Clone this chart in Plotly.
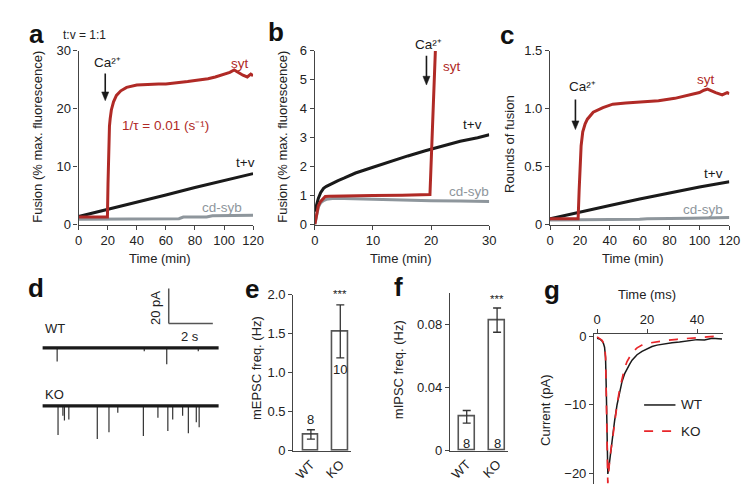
import plotly.graph_objects as go

W, H = 750, 501
FONT = "Liberation Sans, Arial, sans-serif"
RED = "#b02a26"
BLACK = "#1a1a1a"
GRAY = "#8e969c"
AX = "#444444"
TXT = "#222222"

# ---------------- data ----------------
# panel a (t:v = 1:1), time in min, fusion %
a_syt_t = [0, 5, 10, 15, 19.8, 20.2, 20.5, 20.8, 21.2, 21.7, 22.5, 24, 26, 29, 33, 40, 45, 50, 55, 60, 65, 70, 75, 80, 85, 89, 94, 100, 104, 107, 110, 113, 116, 118.4, 120]
a_syt = [1.3, 1.3, 1.3, 1.3, 1.3, 7, 12, 15, 17, 18.3, 19.8, 21.2, 22.3, 23.1, 23.7, 24.1, 24.2, 24.2, 24.3, 24.3, 24.4, 24.5, 24.7, 24.9, 25.0, 25.2, 25.5, 25.9, 26.3, 26.7, 26.2, 25.8, 25.5, 26.0, 25.7]
a_tv_t = [0, 20, 40, 60, 80, 100, 120]
a_tv = [1.4, 2.6, 3.8, 5.1, 6.4, 7.6, 8.8]
a_cd_t = [0, 20, 40, 60, 69, 72, 88, 92, 110, 120]
a_cd = [0.9, 0.9, 0.9, 0.95, 1.0, 1.3, 1.3, 1.5, 1.6, 1.6]

# panel b, time in min (0-30)
b_syt_t = [0, 0.3, 0.6, 1, 1.5, 1.8, 2.5, 3, 5, 8, 10, 15, 19.8, 20.75]
b_syt = [0, 0.4, 0.65, 0.8, 0.9, 0.97, 0.98, 0.98, 0.99, 1.0, 1.0, 1.01, 1.04, 6.1]
b_tv_t = [0, 0.3, 0.6, 1, 1.5, 2, 3, 4, 5, 7, 10, 13, 16, 19, 22, 25, 28, 30]
b_tv = [0.45, 0.7, 0.9, 1.1, 1.25, 1.32, 1.43, 1.52, 1.6, 1.78, 1.98, 2.18, 2.37, 2.55, 2.72, 2.88, 3.0, 3.1]
b_cd_t = [0, 0.3, 0.6, 1, 1.5, 2, 3, 5, 8, 12, 16, 20, 25, 30]
b_cd = [0, 0.35, 0.6, 0.75, 0.83, 0.87, 0.9, 0.9, 0.88, 0.86, 0.84, 0.82, 0.81, 0.8]

# panel c, rounds of fusion
c_syt_t = [0, 10, 18.8, 19.5, 20, 20.8, 21.9, 23.5, 25, 28.9, 35.4, 42, 50.7, 61.6, 72.6, 83.5, 94.4, 100, 103, 105.4, 110.8, 115.2, 118.5, 120]
c_syt = [0.05, 0.05, 0.05, 0.3, 0.5, 0.68, 0.8, 0.87, 0.91, 0.97, 1.01, 1.04, 1.05, 1.06, 1.07, 1.09, 1.12, 1.14, 1.16, 1.17, 1.14, 1.12, 1.14, 1.13]
c_tv_t = [0, 20, 40, 60, 80, 100, 120]
c_tv = [0.05, 0.11, 0.165, 0.22, 0.275, 0.325, 0.37]
c_cd_t = [0, 30, 60, 65, 90, 95, 120]
c_cd = [0.04, 0.04, 0.045, 0.05, 0.05, 0.055, 0.06]

# panel d, spontaneous events (time s, amplitude pA)
d_wt_times = [0.67, 4.62, 5.64, 7.07]
d_wt_amps = [7.8, 2.0, 9.4, 2.0]
d_ko_times = [0.71, 0.93, 1.0, 1.2, 2.49, 3.02, 3.42, 4.58, 5.24, 5.69, 5.91, 6.36, 6.62, 6.98, 7.11]
d_ko_amps = [16.7, 5.6, 8.3, 7.8, 18.9, 15.0, 3.9, 17.2, 6.7, 14.4, 7.8, 5.6, 15.6, 9.4, 12.2]
d_duration = 8.0

# panel e, mEPSC frequency (Hz)
groups = ["WT", "KO"]
e_vals = [0.21, 1.53]
e_err = [0.06, 0.34]
e_n = ["8", "10"]

# panel f, mIPSC frequency (Hz)
f_vals = [0.0215, 0.083]
f_err = [0.004, 0.0077]
f_n = ["8", "8"]

# panel g, averaged events
g_wt_t = [0, 1, 2, 2.5, 3, 3.4, 3.7, 4.0, 4.3, 4.7, 5.2, 6, 7, 8, 9, 10, 11, 12, 13, 14, 15, 16, 18, 20, 22, 24, 26, 28, 30, 33, 36, 40, 43, 46, 50]
g_wt = [-0.3, -0.4, -0.7, -1.0, -1.6, -3.2, -8, -15, -20.1, -19.2, -17.5, -15.3, -12.4, -10, -8.1, -6.6, -5.5, -4.7, -4.1, -3.5, -3.1, -2.7, -2.2, -1.8, -1.5, -1.3, -1.15, -1.05, -0.95, -0.85, -0.7, -0.5, -0.55, -0.3, -0.4]
g_ko_t = [0, 1, 2, 3, 3.4, 3.7, 4.0, 4.3, 4.6, 5.2, 6, 7, 8, 9, 10, 11, 12, 13, 14, 16, 18, 20, 24, 28, 32, 36, 40, 44, 48, 50]
g_ko = [-0.1, -0.3, -0.6, -1.3, -3, -9, -17, -21.5, -20, -17.5, -15.5, -12.6, -10, -7.8, -6, -4.7, -3.7, -3.0, -2.4, -1.7, -1.3, -1.05, -0.8, -0.6, -0.45, -0.3, -0.2, -0.1, 0.0, -0.05]

# ---------------- helpers ----------------
def px(x):
    return x / W

def py(y):
    return 1 - y / H

def dom_x(a, b):
    return [px(a), px(b)]

def dom_y(top, bottom):
    return [py(bottom), py(top)]

annotations = []
shapes = []

def text(s, x, y, size=12.5, color=TXT, angle=0, xanchor="center", bold=False):
    annotations.append(dict(
        text=s, x=px(x), y=py(y), xref="paper", yref="paper",
        showarrow=False, xanchor=xanchor, yanchor="middle", textangle=angle,
        font=dict(family=FONT, size=size, color=color, weight="bold" if bold else "normal")))

def arrow(ax_id, x, ytip, ytail, ux, uy):
    """Downward arrow drawn as shapes; ux, uy = data units per pixel."""
    hl, hw = 9 * uy, 3.6 * ux
    xr, yr = "x" + ax_id, "y" + ax_id
    shapes.append(dict(type="line", xref=xr, yref=yr, x0=x, x1=x, y0=ytail, y1=ytip + hl * 0.8,
                       line=dict(color=BLACK, width=1.6)))
    shapes.append(dict(type="path", xref=xr, yref=yr,
                       path="M %f,%f L %f,%f L %f,%f Z" % (x - hw, ytip + hl, x + hw, ytip + hl, x, ytip),
                       fillcolor=BLACK, line=dict(color=BLACK, width=0.5)))

fig = go.Figure()

def line(xs, ys, ax_id, color, width=3.0, dash="solid"):
    fig.add_trace(go.Scatter(x=xs, y=ys, mode="lines", xaxis="x" + ax_id, yaxis="y" + ax_id,
                             line=dict(color=color, width=width, dash=dash), showlegend=False,
                             hoverinfo="skip"))

# panels a, b, c
line(a_cd_t, a_cd, "", GRAY)
line(a_tv_t, a_tv, "", BLACK)
line(a_syt_t, a_syt, "", RED)
line(b_cd_t, b_cd, "2", GRAY)
line(b_tv_t, b_tv, "2", BLACK)
line(b_syt_t, b_syt, "2", RED)
line(c_cd_t, c_cd, "3", GRAY)
line(c_tv_t, c_tv, "3", BLACK)
line(c_syt_t, c_syt, "3", RED)

# panel d
WT_OFF, KO_OFF = -37.8, -71.1
for off, times, amps in [(WT_OFF, d_wt_times, d_wt_amps), (KO_OFF, d_ko_times, d_ko_amps)]:
    xs, ys = [], []
    for t, a in zip(times, amps):
        xs += [t, t, None]
        ys += [off, off - a, None]
    line(xs, ys, "4", "#333333", width=1.2)
    line([0, d_duration], [off, off], "4", BLACK, width=3.2)
# scale bar 20 pA / 2 s
SB_X, SB_Y = 5.73, -23.9
for (x0, y0, x1, y1) in [(SB_X, SB_Y, SB_X, SB_Y + 20), (SB_X, SB_Y, SB_X + 2, SB_Y)]:
    shapes.append(dict(type="line", xref="x4", yref="y4", x0=x0, y0=y0, x1=x1, y1=y1,
                       line=dict(color="#555555", width=1.5)))

# panels e, f
def bars(vals, errs, ax_id, width):
    fig.add_trace(go.Bar(x=[0, 1], y=vals, width=width, xaxis="x" + ax_id, yaxis="y" + ax_id,
                         marker=dict(color="white", line=dict(color="#555555", width=1.6)),
                         error_y=dict(type="data", array=errs, color="#333333", thickness=1.3, width=4),
                         showlegend=False, hoverinfo="skip"))

bars(e_vals, e_err, "5", 0.533)
bars(f_vals, f_err, "6", 0.52)

# panel g
line(g_wt_t, g_wt, "7", BLACK, width=1.5)
line(g_ko_t, g_ko, "7", "#e8262a", width=1.7, dash="dash")

# ---------------- axes ----------------
def axis(domain, rng, **kw):
    d = dict(domain=domain, range=rng, showline=True, linecolor=AX, linewidth=1.3,
             ticks="outside", ticklen=4, tickwidth=1.2, tickcolor=AX, showgrid=False,
             zeroline=False, tickfont=dict(family=FONT, size=13, color=TXT), fixedrange=True)
    d.update(kw)
    return d

YT, YB = 37, 216
layout = dict(
    width=W, height=H, margin=dict(l=0, r=0, t=0, b=0),
    paper_bgcolor="white", plot_bgcolor="white", font=dict(family=FONT),
    xaxis=axis(dom_x(68, 246), [0, 120], anchor="y", tickvals=[0, 20, 40, 60, 80, 100, 120]),
    yaxis=axis(dom_y(YT, YB), [0, 30], anchor="x", tickvals=[0, 10, 20, 30]),
    xaxis2=axis(dom_x(309, 487), [0, 30], anchor="y2", tickvals=[0, 10, 20, 30]),
    yaxis2=axis(dom_y(YT, YB), [0, 6], anchor="x2", tickvals=[0, 1, 2, 3, 4, 5, 6]),
    xaxis3=axis(dom_x(549, 732), [0, 120], anchor="y3", tickvals=[0, 20, 40, 60, 80, 100, 120]),
    yaxis3=axis(dom_y(YT, YB), [0, 1.5], anchor="x3", tickvals=[0, 0.5, 1.0, 1.5],
                ticktext=["0", "0.5", "1.0", "1.5"]),
    xaxis4=dict(domain=dom_x(31, 211), range=[0, d_duration], visible=False, anchor="y4", fixedrange=True),
    yaxis4=dict(domain=dom_y(275, 450), range=[-97.2, 0], visible=False, anchor="x4", fixedrange=True),
    xaxis5=axis(dom_x(287, 346), [-0.6, 1.367], anchor="y5", ticks="", tickvals=[0, 1],
                ticktext=groups, tickangle=-45),
    yaxis5=axis(dom_y(288.3, 449.3), [0, 2.0], anchor="x5", tickvals=[0, 0.5, 1.0, 1.5, 2.0],
                ticktext=["0", "0.5", "1.0", "1.5", "2.0"]),
    xaxis6=axis(dom_x(447, 506), [-0.548, 1.355], anchor="y6", ticks="", tickvals=[0, 1],
                ticktext=groups, tickangle=-45),
    yaxis6=axis(dom_y(287, 449), [0, 0.1], anchor="x6", tickvals=[0, 0.04, 0.08],
                ticktext=["0", "0.04", "0.08"]),
    xaxis7=axis(dom_x(594, 725), [-1.18, 50.2], anchor="y7", side="top", tickvals=[0, 20, 40]),
    yaxis7=axis(dom_y(329, 483), [-21.5, 0.3], anchor="x7", tickvals=[0, -10, -20],
                ticktext=["0", "\u221210", "\u221220"]),
    bargap=0,
)

# ---------------- text ----------------
for s, x, y in [("a", 25, 20), ("b", 269, 18), ("c", 505, 21), ("d", 24, 281),
                ("e", 245, 282), ("f", 394, 280), ("g", 551, 284)]:
    text(s, x, y, size=26, color="#111111", bold=True)

text("t:v = 1:1", 74, 21, size=12)
text("Fusion (% max. fluorescence)", 26, 125, size=13, angle=-90)
text("Fusion (% max. fluorescence)", 276, 125, size=13, angle=-90)
text("Rounds of fusion", 507, 133, size=13, angle=-90)
for x in [151, 397, 634]:
    text("Time (min)", x, 251, size=13)
text("mEPSC freq. (Hz)", 249, 364, size=13, angle=-90)
text("mIPSC freq. (Hz)", 394, 366, size=13, angle=-90)
text("Time (ms)", 648, 288, size=13)
text("Current (pA)", 545, 407, size=13, angle=-90)

CA = "Ca\u00b2\u207a"
text(CA, 97, 49, size=13.5, color=BLACK)
text(CA, 425, 30, size=13.5, color=BLACK)
text(CA, 582, 74, size=13.5, color=BLACK)
arrow("", 18.3, 21.4, 26.1, 120 / 178, 30 / 179)
arrow("2", 19.2, 4.82, 5.83, 30 / 178, 6 / 178)
arrow("3", 17.0, 0.82, 1.08, 120 / 183, 1.5 / 179)

text("syt", 233, 50, size=13.5, color=RED)
text("t+v", 238, 152, size=13.5, color=BLACK)
text("cd-syb", 214, 198, size=13.5, color=GRAY)
text("1/\u03c4 = 0.01 (s\u207b\u00b9)", 157, 114, size=13.5, color=RED)
text("syt", 449, 53, size=13.5, color=RED)
text("t+v", 470, 113, size=13.5, color=BLACK)
text("cd-syb", 466, 182, size=13.5, color=GRAY)
text("syt", 708, 66, size=13.5, color=RED)
text("t+v", 716, 163, size=13.5, color=BLACK)
text("cd-syb", 705, 201, size=13.5, color=GRAY)

text("WT", 32, 323, size=13, xanchor="left")
text("KO", 32, 391, size=13, xanchor="left")
text("20 pA", 147, 302, size=13, angle=-90)
text("2 s", 182, 331, size=13)

text(e_n[0], 305, 417, size=13)
text(e_n[1], 335, 365, size=13)
text("***", 335, 288, size=11.5)
text(f_n[0], 464, 442, size=13)
text(f_n[1], 495, 442, size=13)
text("***", 495, 293, size=11.5)

shapes.append(dict(type="line", xref="paper", yref="paper", x0=px(645), x1=px(677), y0=py(402), y1=py(402),
                   line=dict(color=BLACK, width=1.5)))
shapes.append(dict(type="line", xref="paper", yref="paper", x0=px(645), x1=px(677), y0=py(429), y1=py(429),
                   line=dict(color="#e8262a", width=1.7, dash="dash")))
text("WT", 681, 402, size=13.5, xanchor="left")
text("KO", 681, 429, size=13.5, xanchor="left")

layout["annotations"] = annotations
layout["shapes"] = shapes
fig.update_layout(**layout)
fig.write_html("out.html")
